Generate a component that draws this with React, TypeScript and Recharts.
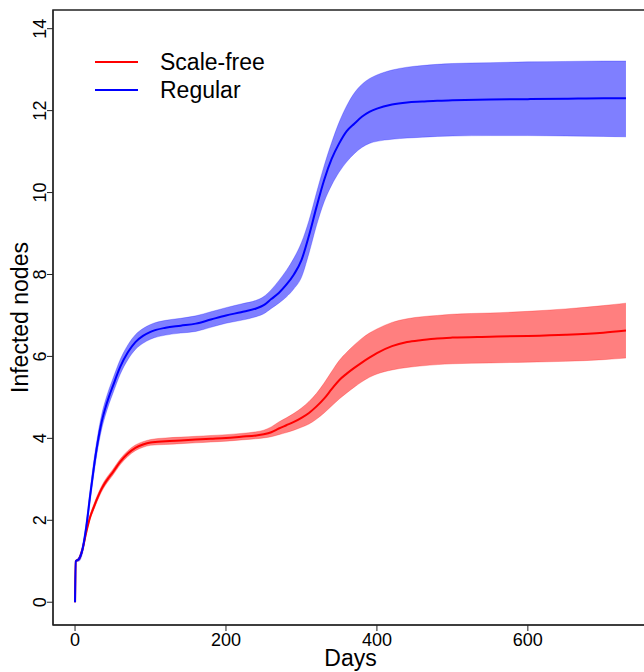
import React from 'react'
import { ComposedChart, Line, Area, XAxis, YAxis, ReferenceArea } from 'recharts'

// day index for every sample below
const days = [
  0, 1, 5, 10, 15, 20, 25, 30, 35, 40,
  45, 50, 60, 70, 80, 90, 100, 120, 140, 160,
  180, 200, 220, 240, 250, 260, 270, 280, 290, 300,
  310, 320, 330, 340, 350, 360, 370, 380, 390, 400,
  420, 440, 460, 480, 500, 550, 600, 650, 700, 730,
]

const regularMean = [
  0, 1.0, 1.05, 1.3, 1.85, 2.6, 3.3, 3.9, 4.38, 4.73,
  5.02, 5.27, 5.75, 6.1, 6.35, 6.5, 6.6, 6.7, 6.75, 6.8,
  6.9, 7.0, 7.08, 7.17, 7.25, 7.4, 7.55, 7.75, 8.0, 8.35,
  8.95, 9.65, 10.3, 10.82, 11.2, 11.5, 11.68, 11.85, 11.97, 12.05,
  12.15, 12.2, 12.22, 12.24, 12.25, 12.27, 12.28, 12.29, 12.3, 12.3,
]
const regularHigh = [
  0, 1.0, 1.1, 1.4, 1.98, 2.75, 3.47, 4.07, 4.56, 4.91,
  5.2, 5.45, 5.93, 6.28, 6.53, 6.68, 6.78, 6.88, 6.93, 6.99,
  7.09, 7.19, 7.28, 7.37, 7.46, 7.63, 7.85, 8.1, 8.4, 8.78,
  9.32, 10.0, 10.65, 11.22, 11.72, 12.12, 12.43, 12.64, 12.78, 12.87,
  12.99, 13.06, 13.1, 13.13, 13.15, 13.17, 13.19, 13.2, 13.21, 13.21,
]
const regularLow = [
  0, 1.0, 1.0, 1.2, 1.72, 2.45, 3.13, 3.73, 4.2, 4.55,
  4.84, 5.09, 5.57, 5.92, 6.17, 6.32, 6.42, 6.52, 6.57, 6.61,
  6.71, 6.81, 6.88, 6.97, 7.04, 7.17, 7.3, 7.45, 7.65, 7.93,
  8.52, 9.2, 9.77, 10.18, 10.5, 10.75, 10.95, 11.1, 11.2, 11.25,
  11.3, 11.33, 11.35, 11.37, 11.38, 11.39, 11.39, 11.38, 11.37, 11.36,
]

const scaleFreeMean = [
  0, 1.0, 1.05, 1.3, 1.72, 2.08, 2.33, 2.56, 2.76, 2.92,
  3.05, 3.17, 3.43, 3.63, 3.77, 3.85, 3.9, 3.93, 3.95, 3.97,
  3.99, 4.01, 4.04, 4.07, 4.1, 4.15, 4.24, 4.32, 4.4, 4.5,
  4.62, 4.78, 4.97, 5.2, 5.42, 5.58, 5.72, 5.85, 5.97, 6.08,
  6.25, 6.35, 6.4, 6.44, 6.46, 6.48, 6.5, 6.53, 6.58, 6.63,
]
const scaleFreeHigh = [
  0, 1.0, 1.08, 1.35, 1.77, 2.14, 2.4, 2.63, 2.83, 2.99,
  3.12, 3.24, 3.5, 3.7, 3.84, 3.92, 3.97, 4.01, 4.03, 4.05,
  4.07, 4.09, 4.12, 4.16, 4.2, 4.28, 4.4, 4.5, 4.61, 4.74,
  4.9, 5.1, 5.35, 5.63, 5.9, 6.1, 6.28, 6.44, 6.57, 6.67,
  6.83, 6.92, 6.97, 7.0, 7.03, 7.06, 7.1, 7.16, 7.24, 7.3,
]
const scaleFreeLow = [
  0, 1.0, 1.02, 1.25, 1.67, 2.02, 2.26, 2.49, 2.69, 2.85,
  2.98, 3.1, 3.36, 3.56, 3.7, 3.78, 3.83, 3.85, 3.87, 3.89,
  3.91, 3.93, 3.96, 3.99, 4.01, 4.04, 4.09, 4.14, 4.2, 4.27,
  4.35, 4.47, 4.62, 4.79, 4.96, 5.11, 5.25, 5.38, 5.49, 5.57,
  5.67, 5.73, 5.77, 5.8, 5.82, 5.84, 5.86, 5.88, 5.92, 5.96,
]

const xTicks = [0, 200, 400, 600]
const yTicks = [0, 2, 4, 6, 8, 10, 12, 14]
const X_DOMAIN: [number, number] = [-29.2, 759.2]
const Y_DOMAIN: [number, number] = [-0.556, 14.456]

const FONT = '"Liberation Sans", Arial, Helvetica, sans-serif'

const rows = days.map((d, i) => ({
  day: d,
  scaleFree: scaleFreeMean[i],
  scaleFreeBand: [scaleFreeLow[i], scaleFreeHigh[i]],
  regular: regularMean[i],
  regularBand: [regularLow[i], regularHigh[i]],
}))

function YTick({ x, y, payload }: any) {
  return (
    <text
      x={x}
      y={y}
      transform={`rotate(-90 ${x} ${y})`}
      textAnchor="middle"
      fontSize={18}
      fontFamily={FONT}
      fill="#000"
    >
      {payload.value}
    </text>
  )
}

function LegendBox() {
  const items = [
    { name: 'Scale-free', color: '#ff0000' },
    { name: 'Regular', color: '#0000ff' },
  ]
  return (
    <div style={{ position: 'absolute', left: 95, top: 48, fontFamily: FONT }}>
      {items.map((it) => (
        <div key={it.name} style={{ display: 'flex', alignItems: 'center', height: 28 }}>
          <span style={{ width: 43, height: 2, background: it.color, display: 'inline-block' }} />
          <span style={{ marginLeft: 22, fontSize: 23, color: '#000' }}>{it.name}</span>
        </div>
      ))}
    </div>
  )
}

export default function App() {
  return (
    <div
      style={{
        position: 'absolute',
        left: 0,
        top: 0,
        width: 644,
        height: 672,
        overflow: 'hidden',
        background: '#fff',
      }}
    >
      <ComposedChart
        width={652}
        height={672}
        data={rows}
        margin={{ top: 10, right: 4, bottom: 0, left: 0 }}
      >
        <XAxis
          dataKey="day"
          type="number"
          domain={X_DOMAIN}
          allowDataOverflow
          ticks={xTicks}
          height={47}
          tickSize={6}
          tickMargin={2}
          stroke="#222"
          tick={{ fontSize: 18, fill: '#000', fontFamily: FONT }}
          label={{
            value: 'Days',
            position: 'insideBottom',
            offset: 6,
            style: { fontSize: 23, fill: '#000', fontFamily: FONT },
          }}
        />
        <YAxis
          type="number"
          domain={Y_DOMAIN}
          allowDataOverflow
          ticks={yTicks}
          width={53}
          tickSize={6}
          tickMargin={1}
          stroke="#222"
          tick={<YTick />}
          label={{
            value: 'Infected nodes',
            angle: -90,
            position: 'insideLeft',
            offset: 20,
            style: { fontSize: 23, fill: '#000', fontFamily: FONT, textAnchor: 'middle' },
          }}
        />
        <ReferenceArea
          x1={X_DOMAIN[0]}
          x2={X_DOMAIN[1]}
          y1={Y_DOMAIN[0]}
          y2={Y_DOMAIN[1]}
          fill="none"
          stroke="#222"
          strokeWidth={1.5}
        />
        <Area
          dataKey="scaleFreeBand"
          type="monotone"
          fill="#ff0000"
          fillOpacity={0.5}
          stroke="#ff0000"
          strokeOpacity={0.25}
          strokeWidth={1}
          isAnimationActive={false}
        />
        <Area
          dataKey="regularBand"
          type="monotone"
          fill="#0000ff"
          fillOpacity={0.5}
          stroke="#0000ff"
          strokeOpacity={0.25}
          strokeWidth={1}
          isAnimationActive={false}
        />
        <Line
          dataKey="scaleFree"
          type="monotone"
          stroke="#ff0000"
          strokeWidth={2}
          dot={false}
          isAnimationActive={false}
        />
        <Line
          dataKey="regular"
          type="monotone"
          stroke="#0000ff"
          strokeWidth={2}
          dot={false}
          isAnimationActive={false}
        />
      </ComposedChart>
      <LegendBox />
    </div>
  )
}
